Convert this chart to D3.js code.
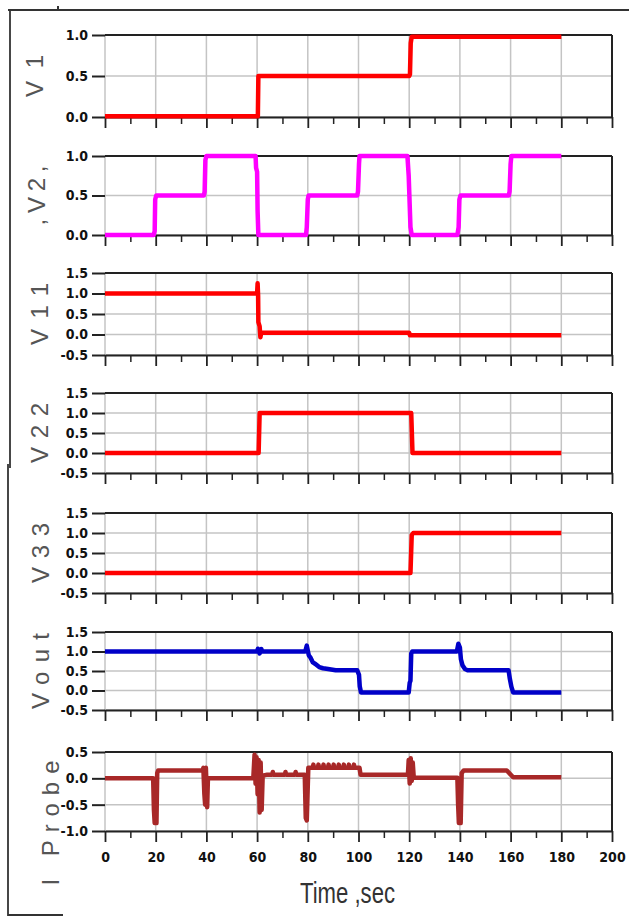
<!DOCTYPE html>
<html>
<head>
<meta charset="utf-8">
<script src="https://cdn.jsdelivr.net/npm/d3@7"></script>
<style>
  body { margin: 0; background: #fff; }
  .tick text { font-family: "DejaVu Sans Condensed", "Liberation Sans Narrow", "Liberation Sans", sans-serif; font-weight: bold; font-size: 14px; fill: #111; }
  .ylab { font-family: "Liberation Sans", "DejaVu Sans", sans-serif; font-size: 24px; fill: #555; }
</style>
</head>
<body>
<div id="chart"></div>
<script>
// data: [time (sec), value]
var v1 = [[0,0.01],[60.3,0.01],[60.5,0.5],[120,0.5],[120.3,0.52],[120.6,0.9],[121,0.98],[180,0.98]];
var v2 = [[0,0],[19.2,0],[19.6,0.05],[19.8,0.45],[20.2,0.5],[39,0.5],[39.3,0.55],[39.6,0.95],[40,1],
          [59.4,1],[59.6,0.85],[60,0.8],[60.2,0.3],[60.5,0],[79.3,0],[79.6,0.1],[80,0.45],[80.3,0.5],
          [99.5,0.5],[99.8,0.55],[100.2,0.9],[100.4,1],[119.3,1],[119.8,0.75],[120.5,0.1],[121,0],
          [139,0],[139.5,0.1],[139.8,0.45],[140.2,0.5],[159.3,0.5],[159.6,0.55],[160,0.9],[160.3,1],[180,1]];
var v11 = [[0,1],[60,1],[60.2,1.25],[60.4,0.95],[60.5,0.3],[61,0.2],[61.3,-0.07],[61.6,0.04],[120,0.04],[120.3,-0.02],[180,-0.02]];
var v22 = [[0,0],[60.6,0],[61,1],[120.8,1],[121.3,0],[180,0]];
var v33 = [[0,0],[120.5,0],[121,0.95],[121.6,1],[180,1]];
var vout = [[0,1],[60,1],[60.3,1.07],[61,0.95],[61.7,1.06],[62,1],[79,1],[79.6,1.15],[80.4,0.9],[81,0.85],
            [82,0.72],[83,0.68],[84.5,0.6],[86,0.57],[88,0.55],[91,0.52],[99.5,0.52],[100.2,0.4],[100.5,0.1],
            [101,-0.05],[119.8,-0.05],[120.2,0.2],[120.5,0.25],[120.8,0.95],[121.2,1],[138.8,1],[139.4,1.2],
            [140,1.1],[140.4,0.8],[141,0.65],[142,0.55],[143,0.52],[159.2,0.52],[159.7,0.3],[160.3,0.1],
            [161,-0.05],[180,-0.05]];
var probe = [[0,0],[19,0],[19.3,-0.6],[19.6,-0.85],[20.3,-0.85],[20.6,0.1],[21,0.15],[38.5,0.15],[38.8,0.2],
             [39.2,-0.3],[39.5,-0.5],[39.8,0.2],[40.3,-0.55],[40.6,0],[58.5,0],[59,0.45],[59.4,-0.1],[59.8,0.4],
             [60.2,-0.3],[60.6,0.35],[61,-0.65],[61.4,0.3],[61.8,-0.6],[62.2,0.05],[64,0.07],[66,0.07],[66.2,0.12],
             [66.4,0.07],[71,0.07],[71.2,0.12],[71.4,0.07],[75,0.07],[75.2,0.12],[75.4,0.07],[78.8,0.07],
             [79.2,-0.75],[79.6,-0.8],[80.2,0.2],[81,0.2],[82,0.2],[82.2,0.26],[82.4,0.2],[84,0.2],[84.2,0.26],
             [84.4,0.2],[86,0.2],[86.2,0.26],[86.4,0.2],[88,0.2],[88.2,0.26],[88.4,0.2],[90,0.2],[90.2,0.26],
             [90.4,0.2],[92,0.2],[92.2,0.26],[92.4,0.2],[94,0.2],[94.2,0.26],[94.4,0.2],[96,0.2],[96.2,0.26],
             [96.4,0.2],[98,0.2],[98.2,0.26],[98.4,0.2],[100.4,0.2],[100.8,0.07],[119.5,0.07],[119.8,0.35],
             [120.2,-0.1],[120.6,0.38],[121,-0.05],[121.4,0.3],[121.8,0.01],[139,0.01],[139.3,-0.5],[139.6,-0.85],
             [140.3,-0.85],[140.7,0.1],[141.5,0.15],[158.5,0.15],[161,0.02],[180,0.02]];

var xMajor = [0,20,40,60,80,100,120,140,160,180,200];
var xMinor = [10,30,50,70,90,110,130,150,170,190];
var yTicksA = [0,0.5,1];
var yTicksB = [-0.5,0,0.5,1,1.5];
var yTicksP = [-1,-0.5,0,0.5];

var width = 629, height = 918;

// panel layout (pixels)
var panels = [
  {label: "V1",      data: v1,    color: "#ff0000", domain: [0,1],    ticks: yTicksA, top: 35,  bottom: 117, lx: 35, len: 42},
  {label: ",V2,",    data: v2,    color: "#ff00ff", domain: [0,1],    ticks: yTicksA, top: 156, bottom: 235, lx: 37, len: 60},
  {label: "V11",     data: v11,   color: "#ff0000", domain: [-0.5,1.5], ticks: yTicksB, top: 273, bottom: 355, lx: 40, len: 62},
  {label: "V22",     data: v22,   color: "#ff0000", domain: [-0.5,1.5], ticks: yTicksB, top: 393, bottom: 473, lx: 40, len: 60},
  {label: "V33",     data: v33,   color: "#ff0000", domain: [-0.5,1.5], ticks: yTicksB, top: 513, bottom: 593, lx: 41, len: 60},
  {label: "Vout",    data: vout,  color: "#0000c8", domain: [-0.5,1.5], ticks: yTicksB, top: 632, bottom: 710, lx: 41, len: 76},
  {label: "I  Probe", data: probe, color: "#a82828", domain: [-1,0.5],  ticks: yTicksP, top: 752, bottom: 831, lx: 51, len: 125}
];

var svg = d3.select("#chart").append("svg")
    .attr("width", width)
    .attr("height", height);

var x = d3.scaleLinear().domain([0, 200]).range([105, 612]);
var fmt = function(d) { return d3.format(".1f")(d).replace("\u2212", "-"); };

// outer frame
svg.append("path").attr("d", "M8,10H629M58,10V6").attr("stroke", "#333").attr("stroke-width", 2).attr("fill", "none");
svg.append("path").attr("d", "M10,10V468M8,464V915H63").attr("stroke", "#333").attr("stroke-width", 1.8).attr("fill", "none");

panels.forEach(function(p, i) {
    var y = d3.scaleLinear().domain(p.domain).range([p.bottom, p.top]);
    var g = svg.append("g");

    // grid
    g.selectAll(".vg").data(xMajor).enter().append("line")
      .attr("x1", function(d) { return x(d); }).attr("x2", function(d) { return x(d); })
      .attr("y1", p.top).attr("y2", p.bottom)
      .attr("stroke", "#c4c4c4").attr("stroke-width", 1.5);
    g.selectAll(".hg").data(p.ticks).enter().append("line")
      .attr("x1", x(0)).attr("x2", x(200))
      .attr("y1", function(d) { return y(d); }).attr("y2", function(d) { return y(d); })
      .attr("stroke", "#c4c4c4").attr("stroke-width", 1.5);

    // y axis
    var ya = g.append("g").attr("transform", "translate(" + x(0) + ",0)")
      .call(d3.axisLeft(y).tickValues(p.ticks).tickSize(13).tickPadding(4).tickFormat(fmt));
    ya.select(".domain").remove();
    ya.selectAll("line").attr("stroke", "#222").attr("stroke-width", 2);

    // x axis, minor then major
    var xm = g.append("g").attr("transform", "translate(0," + p.bottom + ")")
      .call(d3.axisBottom(x).tickValues(xMinor).tickSize(7).tickFormat(""));
    xm.select(".domain").remove();
    xm.selectAll("line").attr("stroke", "#222").attr("stroke-width", 1.5);

    var xa = g.append("g").attr("transform", "translate(0," + p.bottom + ")")
      .call(d3.axisBottom(x).tickValues(xMajor).tickSizeInner(11).tickSizeOuter(0)
            .tickFormat(i === panels.length - 1 ? d3.format("d") : ""));
    xa.select(".domain").attr("stroke", "#222").attr("stroke-width", 2);
    xa.selectAll("line").attr("stroke", "#222").attr("stroke-width", 1.8);
    xa.selectAll("text").attr("y", 21);

    // top and right border
    g.append("line").attr("x1", x(0)).attr("x2", x(200)).attr("y1", p.top).attr("y2", p.top)
      .attr("stroke", "#222").attr("stroke-width", 2);
    g.append("line").attr("x1", x(200)).attr("x2", x(200)).attr("y1", p.top).attr("y2", p.bottom)
      .attr("stroke", "#222").attr("stroke-width", 2);

    // trace
    var line = d3.line()
      .x(function(d) { return x(d[0]); })
      .y(function(d) { return y(d[1]); });
    g.append("path").datum(p.data)
      .attr("d", line)
      .attr("fill", "none")
      .attr("stroke", p.color)
      .attr("stroke-width", 4.5)
      .attr("stroke-linejoin", "round");

    // rotated series label
    var cy = (p.top + p.bottom) / 2;
    if (i === panels.length - 1) cy = 823;
    g.append("text").attr("class", "ylab")
      .attr("transform", "translate(" + (p.lx + 8) + "," + cy + ") rotate(-90)")
      .attr("text-anchor", "middle")
      .attr("textLength", p.len)
      .attr("lengthAdjust", "spacing")
      .text(p.label);
});

// x title
svg.append("text")
  .attr("x", 300).attr("y", 903)
  .attr("textLength", 95).attr("lengthAdjust", "spacingAndGlyphs")
  .style("font-family", "Liberation Sans, DejaVu Sans, sans-serif")
  .style("font-size", "30px")
  .style("fill", "#333")
  .text("Time ,sec");
</script>
</body>
</html>
